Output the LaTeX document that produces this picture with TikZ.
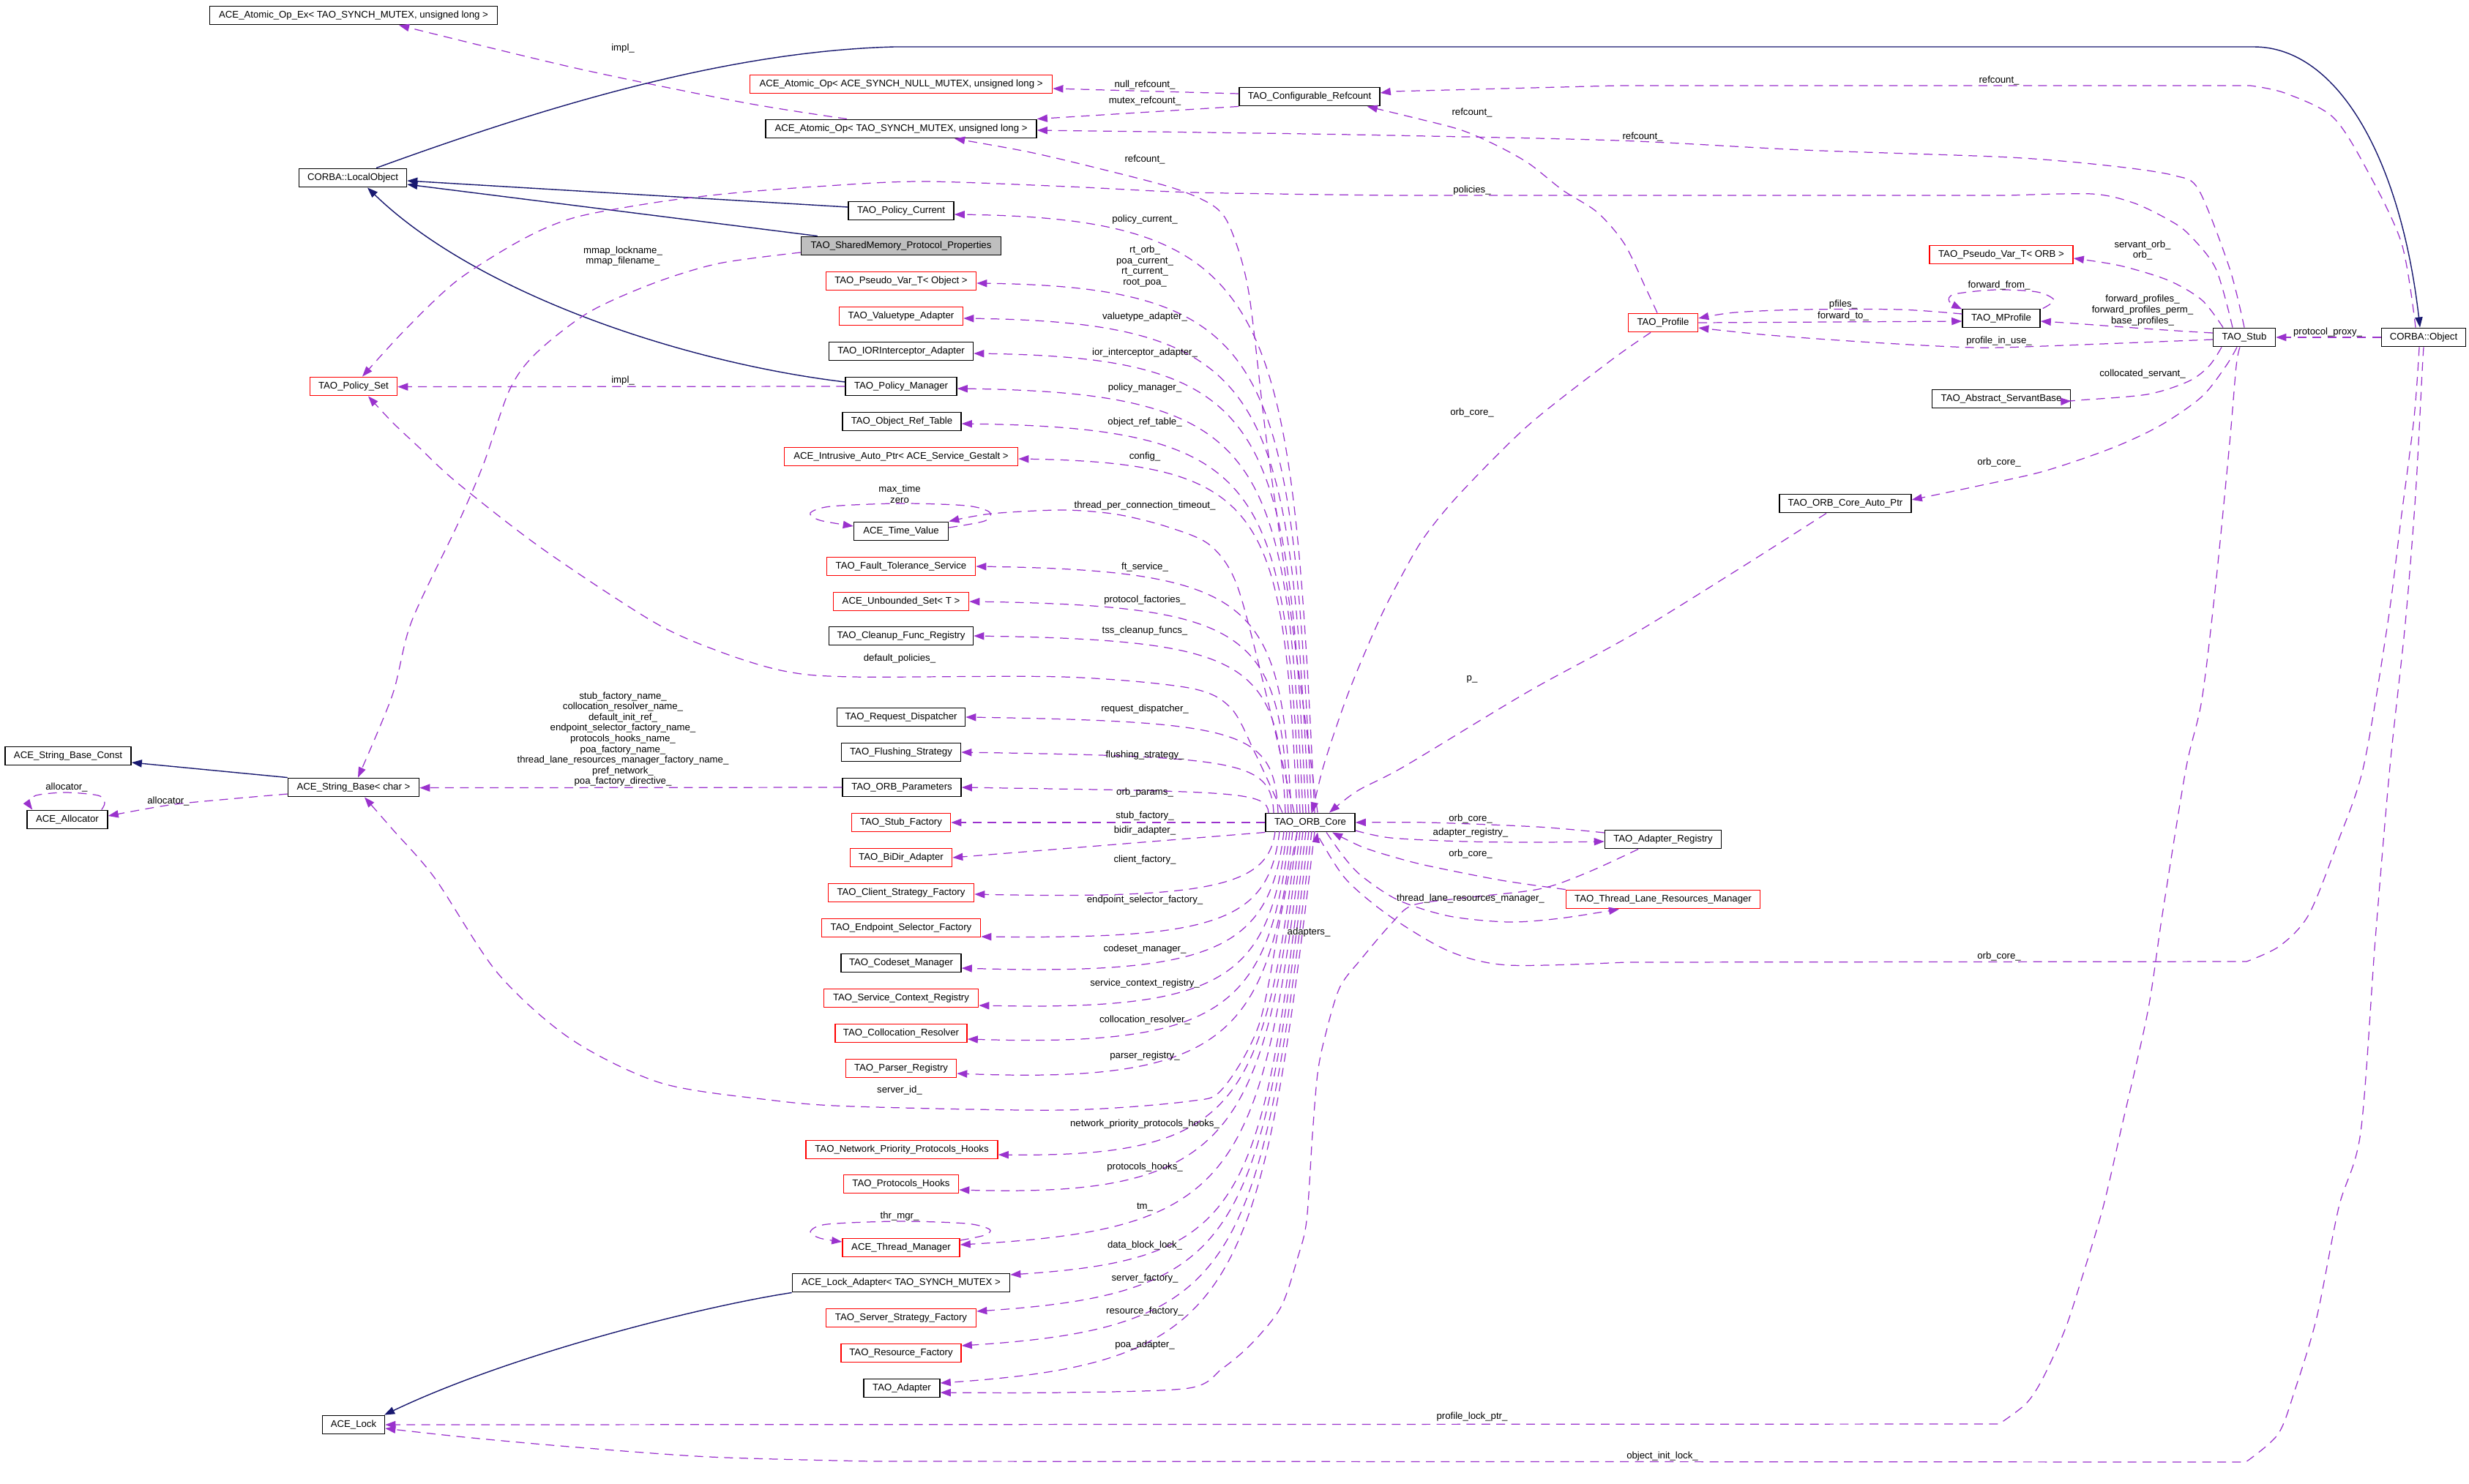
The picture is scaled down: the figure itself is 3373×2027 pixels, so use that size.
\documentclass[tikz,border=0pt]{standalone}
\usepackage{fontspec}
\setmainfont{Liberation Sans}
\usetikzlibrary{arrows.meta,calc}
\definecolor{usecol}{HTML}{9A32CD}
\definecolor{inhcol}{HTML}{191970}
\definecolor{grayfill}{HTML}{BFBFBF}
\tikzset{
 cls/.style={draw=black, fill=white, line width=0.4pt, rectangle, inner xsep=1pt, inner ysep=0pt, minimum height=0.255cm, font=\fontsize{3.75}{4.15}\selectfont},
 redcls/.style={cls, draw=red},
 bw/.style={minimum width=#1},
 lbl/.style={font=\fontsize{3.75}{4.15}\selectfont, inner sep=0pt, align=center},
 uses/.style={draw=usecol, line width=0.35pt, dash pattern=on 3.4pt off 2.4pt, -{Triangle[length=4pt,width=2.9pt]}},
 inh/.style={draw=inhcol, line width=0.4pt, -{Triangle[length=4pt,width=2.9pt]}},
}
\newcommand\coreup[2]{\draw[uses] let \p1=(#2), \p2=(#1,1111) in (\p2) .. controls ({\x2-0.04*((\y1)-(\y2))},{\y1-0.15*((\y1)-(\y2))}) and ({\x1+0.9*((\x2)-(\x1))},{\y1-1.7pt}) .. (\p1);}
\newcommand\coredown[3]{\draw[uses] let \p1=(#2), \p2=(#1,1136) in (\p2) .. controls ({\x2-0.1*((\y2)-(\y1))},{\y1+0.15*((\y2)-(\y1))}) and ({\x1+0.8*((\x2)-(\x1))},{\y1+(#3)}) .. (\p1);}
\begin{document}
\begin{tikzpicture}[x=0.01cm,y=-0.01cm]
\useasboundingbox (0,0) rectangle (3373,2027);
\fill[white] (0,0) rectangle (3373,2027);
% ---------------- nodes
\node[cls,bw=3.93cm] (atomicex) at (483,21) {ACE\_Atomic\_Op\_Ex< TAO\_SYNCH\_MUTEX, unsigned long >};
\node[cls,bw=1.47cm] (localobject) at (482,243) {CORBA::LocalObject};
\node[redcls,bw=4.13cm] (atomicnull) at (1231,115) {ACE\_Atomic\_Op< ACE\_SYNCH\_NULL\_MUTEX, unsigned long >};
\node[cls,bw=3.70cm] (atomic) at (1231,176) {ACE\_Atomic\_Op< TAO\_SYNCH\_MUTEX, unsigned long >};
\node[cls,bw=1.92cm] (confrefcount) at (1789,132) {TAO\_Configurable\_Refcount};
\node[cls,bw=1.44cm] (policycurrent) at (1231,288) {TAO\_Policy\_Current};
\node[cls,bw=2.73cm,fill=grayfill] (shmem) at (1231,336) {TAO\_SharedMemory\_Protocol\_Properties};
\node[redcls,bw=2.05cm] (pseudoobj) at (1231,384) {TAO\_Pseudo\_Var\_T< Object >};
\node[redcls,bw=1.69cm] (valuetype) at (1231,432) {TAO\_Valuetype\_Adapter};
\node[cls,bw=1.97cm] (iorinterceptor) at (1231,480) {TAO\_IORInterceptor\_Adapter};
\node[redcls,bw=1.19cm] (policyset) at (483,528) {TAO\_Policy\_Set};
\node[cls,bw=1.52cm] (policymanager) at (1231,528) {TAO\_Policy\_Manager};
\node[cls,bw=1.62cm] (objreftable) at (1232,576) {TAO\_Object\_Ref\_Table};
\node[redcls,bw=3.19cm] (intrusive) at (1231,624) {ACE\_Intrusive\_Auto\_Ptr< ACE\_Service\_Gestalt >};
\node[cls,bw=1.29cm] (timevalue) at (1231,726) {ACE\_Time\_Value};
\node[redcls,bw=2.03cm] (ftservice) at (1231,774) {TAO\_Fault\_Tolerance\_Service};
\node[redcls,bw=1.85cm] (unboundedset) at (1231,822) {ACE\_Unbounded\_Set< T >};
\node[cls,bw=1.97cm] (cleanup) at (1231,869) {TAO\_Cleanup\_Func\_Registry};
\node[cls,bw=1.75cm] (requestdisp) at (1231,980) {TAO\_Request\_Dispatcher};
\node[cls,bw=1.63cm] (flushing) at (1231,1028) {TAO\_Flushing\_Strategy};
\node[cls,bw=1.72cm] (sbconst) at (93,1033) {ACE\_String\_Base\_Const};
\node[cls,bw=1.79cm] (stringbase) at (483,1076) {ACE\_String\_Base< char >};
\node[cls,bw=1.62cm] (orbparams) at (1232,1076) {TAO\_ORB\_Parameters};
\node[cls,bw=1.10cm] (allocator) at (92,1120) {ACE\_Allocator};
\node[redcls,bw=1.35cm] (stubfactory) at (1231,1124) {TAO\_Stub\_Factory};
\node[redcls,bw=1.39cm] (bidir) at (1231,1172) {TAO\_BiDir\_Adapter};
\node[redcls,bw=1.99cm] (clientfactory) at (1231,1220) {TAO\_Client\_Strategy\_Factory};
\node[redcls,bw=2.17cm] (endpointfactory) at (1231,1268) {TAO\_Endpoint\_Selector\_Factory};
\node[cls,bw=1.64cm] (codeset) at (1231,1316) {TAO\_Codeset\_Manager};
\node[redcls,bw=2.11cm] (servicecontext) at (1231,1364) {TAO\_Service\_Context\_Registry};
\node[redcls,bw=1.80cm] (collocation) at (1231,1412) {TAO\_Collocation\_Resolver};
\node[redcls,bw=1.51cm] (parser) at (1231,1460) {TAO\_Parser\_Registry};
\node[redcls,bw=2.62cm] (netprio) at (1232,1571) {TAO\_Network\_Priority\_Protocols\_Hooks};
\node[redcls,bw=1.57cm] (protohooks) at (1231,1618) {TAO\_Protocols\_Hooks};
\node[redcls,bw=1.60cm] (threadmgr) at (1231,1705) {ACE\_Thread\_Manager};
\node[cls,bw=2.97cm] (lockadapter) at (1231,1753) {ACE\_Lock\_Adapter< TAO\_SYNCH\_MUTEX >};
\node[redcls,bw=2.05cm] (serverfactory) at (1231,1801) {TAO\_Server\_Strategy\_Factory};
\node[redcls,bw=1.64cm] (resourcefactory) at (1231,1849) {TAO\_Resource\_Factory};
\node[cls,bw=1.04cm] (adapter) at (1232,1897) {TAO\_Adapter};
\node[cls,bw=0.85cm] (acelock) at (483,1947) {ACE\_Lock};
\node[cls,bw=1.22cm] (orbcore) at (1790,1124) {TAO\_ORB\_Core};
\node[redcls,bw=0.95cm] (profile) at (2272,441) {TAO\_Profile};
\node[cls,bw=1.06cm] (mprofile) at (2734,435) {TAO\_MProfile};
\node[redcls,bw=1.96cm] (pseudoorb) at (2734,348) {TAO\_Pseudo\_Var\_T< ORB >};
\node[cls,bw=0.85cm] (stub) at (3066,461) {TAO\_Stub};
\node[cls,bw=1.15cm] (corbaobject) at (3311,461) {CORBA::Object};
\node[cls,bw=1.89cm] (servantbase) at (2734,545) {TAO\_Abstract\_ServantBase};
\node[cls,bw=1.80cm] (autoptr) at (2521,688) {TAO\_ORB\_Core\_Auto\_Ptr};
\node[cls,bw=1.59cm] (adapterreg) at (2272,1147) {TAO\_Adapter\_Registry};
\node[redcls,bw=2.65cm] (tlrm) at (2272,1229) {TAO\_Thread\_Lane\_Resources\_Manager};
% ---------------- inheritance
\draw[inh] ([yshift=0.05cm]policycurrent.west) -- ([yshift=-0.04cm]localobject.east);
\draw[inh] ([xshift=0.23cm]shmem.north west) -- ([yshift=-0.09cm]localobject.east);
\draw[inh] ([yshift=0.06cm]policymanager.west) .. controls (930,495) and (650,400) .. ([xshift=0.2cm]localobject.south);
\draw[inh] ([xshift=0.32cm]localobject.north) .. controls (760,140) and (1000,70) .. (1222,64) -- (3079,64) .. controls (3195,64) and (3280,220) .. ([xshift=-0.05cm]corbaobject.north);
\draw[inh] (stringbase.north west) -- ([yshift=-0.09cm]sbconst.east);
\draw[inh] (lockadapter.south west) .. controls (960,1785) and (700,1850) .. ([xshift=0.42cm]acelock.north);
% ---------------- usage
\draw[uses] plot[smooth,tension=0.5] coordinates {([xshift=-0.74cm]atomic.north) (1015,140) (786,93) ([xshift=0.62cm]atomicex.south)};
\draw[uses] ([yshift=0.04cm]confrefcount.west) -- ([yshift=-0.06cm]atomicnull.east);
\draw[uses] (confrefcount.south west) -- (atomic.north east);
\draw[uses] plot[smooth,tension=0.5] coordinates {(stub.north) (3046,367) (3004,260) (2971,240) (2886,227) (2745,215) (2464,205) (2210,192) (1900,185) (1718,182) ([yshift=-0.02cm]atomic.east)};
\draw[uses] plot[smooth,tension=0.5] coordinates {([xshift=0.1cm]orbcore.north) (1765,850) (1730,600) (1706,400) (1683,317) (1660,283) (1603,257) (1488,227) (1402,207) ([xshift=0.73cm]atomic.south)};
\draw[uses] plot[smooth,tension=0.5] coordinates {([xshift=-0.11cm]corbaobject.north) (3281,333) (3234,233) (3187,160) (3121,127) (3074,117)} -- (2210,117) -- (1900,125) -- ([yshift=0.05cm]confrefcount.east);
\draw[uses] plot[smooth,tension=0.5] coordinates {([xshift=-0.08cm]profile.north) (2248,393) (2219,333) (2182,290) (2135,260) (2088,223) (2041,197) (1994,177) (1928,160) ([xshift=-0.18cm]confrefcount.south east)};
\draw[uses] plot[smooth,tension=0.5] coordinates {([xshift=-0.16cm]stub.north) (3027,367) (2990,320) (2962,300) (2914,277) (2858,265) (2745,267)} -- (1900,267) -- plot[smooth,tension=0.5] coordinates {(1900,267) (1631,263) (1459,255) (1258,248) (1115,255) (1000,264) (900,276) (786,297) (714,327) (625,383) (554,450) ([xshift=0.12cm]policyset.north)};
\draw[uses] (policymanager.west) -- ([yshift=-0.006cm]policyset.east);
\draw[uses] plot[smooth,tension=0.5] coordinates {([xshift=-0.38cm]orbcore.north) (1715,1030) (1681,967) (1624,940) (1452,925) (1165,925) (1071,917) (982,890) (893,850) (741,750) (625,660) (571,610) (536,577) ([xshift=0.2cm]policyset.south)};
\draw[uses] plot[smooth,tension=0.5] coordinates {([yshift=-0.09cm]shmem.west) (982,360) (893,387) (804,427) (732,483) (696,533) (661,633) (625,717) (562,850) (536,950) ([xshift=0.06cm]stringbase.north)};
\draw[uses] plot[smooth,tension=0.5] coordinates {([xshift=-0.18cm]orbcore.south) (1750,1250) (1720,1400) (1670,1488) (1624,1505) (1452,1517) (1165,1512) (1050,1503) (903,1480) (780,1420) (680,1330) (594,1200) (536,1133) ([xshift=0.15cm]stringbase.south)};
\draw[uses] (orbparams.west) -- ([yshift=-0.006cm]stringbase.east);
\draw[uses] plot[smooth,tension=0.5] coordinates {([xshift=-0.09cm]allocator.north east) (143,1097) (134,1087) (89,1083) (49,1087) (40,1097) ([xshift=0.08cm]allocator.north west)};
\draw[uses] plot[smooth,tension=0.5] coordinates {([yshift=-0.09cm]stringbase.west) (312,1092) (232,1100) ([yshift=0.05cm]allocator.east)};
\draw[uses] plot[smooth,tension=0.5] coordinates {([xshift=-0.22cm]orbcore.north) (1730,950) (1690,800) (1653,745) (1595,720) (1526,703) (1452,697) (1354,702) (timevalue.north east)};
\draw[uses] plot[smooth,tension=0.5] coordinates {([yshift=0.05cm]timevalue.east) (1345,712) (1352,700) (1320,691) (1230,688) (1135,692) (1107,701) (1120,711) ([yshift=0.07cm]timevalue.west)};
\draw[uses] plot[smooth,tension=0.5] coordinates {([yshift=0.1cm]threadmgr.east) (1345,1688) (1352,1680) (1320,1672) (1228,1669) (1130,1673) (1107,1683) (1120,1692) ([yshift=0.08cm]threadmgr.west)};
\draw[uses] plot[smooth,tension=0.5] coordinates {([xshift=0.03cm]mprofile.north east) (2806,410) (2783,399) (2727,396) (2670,402) (2663,412) ([yshift=-0.01cm]mprofile.north west)};
\draw[uses] plot[smooth,tension=0.5] coordinates {([yshift=0.06cm]mprofile.west) (2595,423) (2464,423) (2370,427) ([yshift=0.06cm]profile.east)};
\draw[uses] (profile.east) -- ([yshift=-0.04cm]mprofile.west);
\draw[uses] ([yshift=0.06cm]stub.west) .. controls (2933,450) and (2839,442) .. ([yshift=-0.04cm]mprofile.east);
\draw[uses] plot[smooth,tension=0.5] coordinates {([yshift=-0.03cm]stub.west) (2792,473) (2698,475) (2558,468) (2417,458) ([yshift=-0.07cm]profile.east)};
\draw[uses] plot[smooth,tension=0.5] coordinates {([xshift=-0.29cm]stub.north) (3008,410) (2962,383) (2896,363) ([yshift=-0.05cm]pseudoorb.east)};
\draw[uses] plot[smooth,tension=0.5] coordinates {([xshift=-0.31cm]stub.south) (3018,500) (2990,521) (2933,539) (2839,547) ([yshift=-0.03cm]servantbase.east)};
\draw[uses] plot[smooth,tension=0.5] coordinates {([xshift=-0.1cm]stub.south) (3041,500) (3008,542) (2952,581) (2886,612) (2792,644) (2698,665) ([yshift=0.05cm]autoptr.east)};
\draw[uses] (corbaobject.west) -- (stub.east);
\draw[uses] plot[smooth,tension=0.5] coordinates {([xshift=-0.26cm]autoptr.south) (2370,781) (2229,868) (2088,945) (1919,1047) (1854,1081) ([xshift=0.26cm]orbcore.north)};
\draw[uses] plot[smooth,tension=0.5] coordinates {([xshift=-0.17cm]profile.south) (2200,493) (2088,581) (1994,675) (1945,735) (1911,794) (1882,852) (1842,947) (1808,1047) ([xshift=0.03cm]orbcore.north)};
\draw[uses] plot[smooth,tension=0.5] coordinates {([yshift=0.09cm]adapterreg.west) (2101,1130) (1950,1124) (orbcore.east)};
\draw[uses] plot[smooth,tension=0.5] coordinates {([yshift=-0.11cm]orbcore.east) (1900,1145) (2001,1150) (2101,1151) ([yshift=-0.03cm]adapterreg.west)};
\draw[uses] plot[smooth,tension=0.5] coordinates {(tlrm.north west) (2051,1203) (1950,1183) (1900,1170) (1860,1157) ([xshift=0.3cm]orbcore.south)};
\draw[uses] plot[smooth,tension=0.5] coordinates {([xshift=0.22cm]orbcore.south) (1835,1170) (1860,1197) (1910,1230) (1980,1252) (2061,1260) (2131,1255) ([xshift=-0.6cm]tlrm.south)};
\draw[uses] plot[smooth,tension=0.5] coordinates {([xshift=-0.06cm]corbaobject.south) (3298,570) (3280,710) (3262,851) (3229,1047) (3194,1150) (3154,1250) (3114,1293) (3069,1314)} -- (2221,1315) -- plot[smooth,tension=0.5] coordinates {(2221,1315) (2061,1319) (1980,1300) (1900,1253) (1840,1203) (1805,1150) ([xshift=0.1cm]orbcore.south)};
\draw[uses] plot[smooth,tension=0.5] coordinates {(corbaobject.south) (3309,507) (3300,675) (3286,851) (3265,1047) (3245,1283) (3225,1547) (3195,1650) (3165,1800) (3135,1900) (3112,1960) (3068,1998)} -- (1190,1997) -- plot[smooth,tension=0.5] coordinates {(1190,1997) (970,1991) (778,1977) (635,1964) ([yshift=-0.05cm]acelock.east)};
\draw[uses] plot[smooth,tension=0.5] coordinates {([xshift=-0.06cm]stub.south) (3055,500) (3046,605) (3027,798) (3008,956) (2986,1052) (2954,1250) (2934,1383) (2898,1542) (2873,1650) (2843,1750) (2821,1817) (2791,1883) (2768,1918) (2731,1946)} -- (acelock.east);
\draw[uses] plot[smooth,tension=0.5] coordinates {([xshift=-0.34cm]adapterreg.south) (2181,1187) (2131,1207) (2091,1217) (2001,1227) (1930,1237) (1900,1263) (1860,1310) (1830,1350) (1810,1417) (1800,1467) (1793,1550) (1785,1668) (1773,1718) (1750,1786) (1710,1836) (1670,1870) (1624,1897) (1452,1903) ([yshift=-0.06cm]adapter.east)};
% ORB core fan (upper)
\coreup{1796}{[yshift=-0.05cm]policycurrent.east}
\coreup{1792}{[yshift=-0.03cm]pseudoobj.east}
\coreup{1788}{[yshift=-0.03cm]valuetype.east}
\coreup{1784}{[yshift=-0.03cm]iorinterceptor.east}
\coreup{1780}{[yshift=-0.03cm]policymanager.east}
\coreup{1776}{[yshift=-0.03cm]objreftable.east}
\coreup{1772}{[yshift=-0.03cm]intrusive.east}
\coreup{1764}{ftservice.east}
\coreup{1760}{unboundedset.east}
\coreup{1756}{cleanup.east}
\coreup{1746}{requestdisp.east}
\coreup{1740}{flushing.east}
\coreup{1733}{orbparams.east}
% ORB core fan (lower)
\draw[uses] (orbcore.west) -- (stubfactory.east);
\draw[uses] (orbcore.south west) -- (bidir.east);
\coredown{1742}{[yshift=-0.02cm]clientfactory.east}{-2pt}
\coredown{1748}{[yshift=-0.12cm]endpointfactory.east}{-1pt}
\coredown{1754}{[yshift=-0.07cm]codeset.east}{-3pt}
\coredown{1758}{[yshift=-0.1cm]servicecontext.east}{-2pt}
\coredown{1762}{[yshift=-0.08cm]collocation.east}{-3pt}
\coredown{1766}{[yshift=-0.07cm]parser.east}{-4pt}
\coredown{1772}{[yshift=-0.07cm]netprio.east}{-1pt}
\coredown{1776}{[yshift=-0.08cm]protohooks.east}{-3pt}
\coredown{1780}{[yshift=0.04cm]threadmgr.east}{6pt}
\coredown{1784}{[yshift=0.11cm]lockadapter.east}{6pt}
\coredown{1788}{[yshift=0.09cm]serverfactory.east}{7pt}
\coredown{1792}{[yshift=0.1cm]resourcefactory.east}{7pt}
\coredown{1796}{[yshift=0.07cm]adapter.east}{8pt}
% ---------------- labels
\node[lbl] (l1) at (851,66) {impl\_};
\node[lbl] (l2) at (1564,116) {null\_refcount\_};
\node[lbl] (l3) at (1564,138) {mutex\_refcount\_};
\node[lbl] (l4) at (1564,218) {refcount\_};
\node[lbl] (l5) at (2011,154) {refcount\_};
\node[lbl] (l6) at (2244,187) {refcount\_};
\node[lbl] (l7) at (2731,110) {refcount\_};
\node[lbl] (l8) at (2011,260) {policies\_};
\node[lbl] (l9) at (1564,300) {policy\_current\_};
\node[lbl] (l10) at (1564,364) {rt\_orb\_\\poa\_current\_\\rt\_current\_\\root\_poa\_};
\node[lbl] (l11) at (851,350) {mmap\_lockname\_\\mmap\_filename\_};
\node[lbl] (l12) at (2927,342) {servant\_orb\_\\orb\_};
\node[lbl] (l13) at (2731,390) {forward\_from\_};
\node[lbl] (l14) at (2518,416) {pfiles\_};
\node[lbl] (l15) at (2518,432) {forward\_to\_};
\node[lbl] (l16) at (2927,424) {forward\_profiles\_\\forward\_profiles\_perm\_\\base\_profiles\_};
\node[lbl] (l17) at (3180,454) {protocol\_proxy\_};
\node[lbl] (l18) at (2731,466) {profile\_in\_use\_};
\node[lbl] (l19) at (1564,433) {valuetype\_adapter\_};
\node[lbl] (l20) at (1564,482) {ior\_interceptor\_adapter\_};
\node[lbl] (l21) at (851,520) {impl\_};
\node[lbl] (l22) at (1564,530) {policy\_manager\_};
\node[lbl] (l23) at (2927,511) {collocated\_servant\_};
\node[lbl] (l24) at (2011,564) {orb\_core\_};
\node[lbl] (l25) at (1564,577) {object\_ref\_table\_};
\node[lbl] (l26) at (1564,624) {config\_};
\node[lbl] (l27) at (2731,632) {orb\_core\_};
\node[lbl] (l28) at (1229,675) {max\_time\\zero};
\node[lbl] (l29) at (1564,691) {thread\_per\_connection\_timeout\_};
\node[lbl] (l30) at (1564,775) {ft\_service\_};
\node[lbl] (l31) at (1564,820) {protocol\_factories\_};
\node[lbl] (l32) at (1564,862) {tss\_cleanup\_funcs\_};
\node[lbl] (l33) at (1229,900) {default\_policies\_};
\node[lbl] (l34) at (2011,928) {p\_};
\node[lbl] (l35) at (1564,969) {request\_dispatcher\_};
\node[lbl] (l36) at (1564,1032) {flushing\_strategy\_};
\node[lbl] (l37) at (851,1010) {stub\_factory\_name\_\\collocation\_resolver\_name\_\\default\_init\_ref\_\\endpoint\_selector\_factory\_name\_\\protocols\_hooks\_name\_\\poa\_factory\_name\_\\thread\_lane\_resources\_manager\_factory\_name\_\\pref\_network\_\\poa\_factory\_directive\_};
\node[lbl] (l38) at (91,1076) {allocator\_};
\node[lbl] (l39) at (230,1095) {allocator\_};
\node[lbl] (l40) at (1564,1083) {orb\_params\_};
\node[lbl] (l41) at (1564,1115) {stub\_factory\_};
\node[lbl] (l42) at (1564,1135) {bidir\_adapter\_};
\node[lbl] (l43) at (2009,1119) {orb\_core\_};
\node[lbl] (l44) at (2009,1138) {adapter\_registry\_};
\node[lbl] (l45) at (2009,1167) {orb\_core\_};
\node[lbl] (l46) at (1564,1175) {client\_factory\_};
\node[lbl] (l47) at (2009,1228) {thread\_lane\_resources\_manager\_};
\node[lbl] (l48) at (1564,1230) {endpoint\_selector\_factory\_};
\node[lbl] (l49) at (1788,1274) {adapters\_};
\node[lbl] (l50) at (1564,1297) {codeset\_manager\_};
\node[lbl] (l51) at (2731,1307) {orb\_core\_};
\node[lbl] (l52) at (1564,1344) {service\_context\_registry\_};
\node[lbl] (l53) at (1564,1394) {collocation\_resolver\_};
\node[lbl] (l54) at (1564,1443) {parser\_registry\_};
\node[lbl] (l55) at (1229,1490) {server\_id\_};
\node[lbl] (l56) at (1564,1536) {network\_priority\_protocols\_hooks\_};
\node[lbl] (l57) at (1564,1595) {protocols\_hooks\_};
\node[lbl] (l58) at (1564,1650) {tm\_};
\node[lbl] (l59) at (1229,1662) {thr\_mgr\_};
\node[lbl] (l60) at (1564,1702) {data\_block\_lock\_};
\node[lbl] (l61) at (1564,1747) {server\_factory\_};
\node[lbl] (l62) at (1564,1792) {resource\_factory\_};
\node[lbl] (l63) at (1564,1838) {poa\_adapter\_};
\node[lbl] (l64) at (2011,1936) {profile\_lock\_ptr\_};
\node[lbl] (l65) at (2271,1990) {object\_init\_lock\_};
\end{tikzpicture}
\end{document}
